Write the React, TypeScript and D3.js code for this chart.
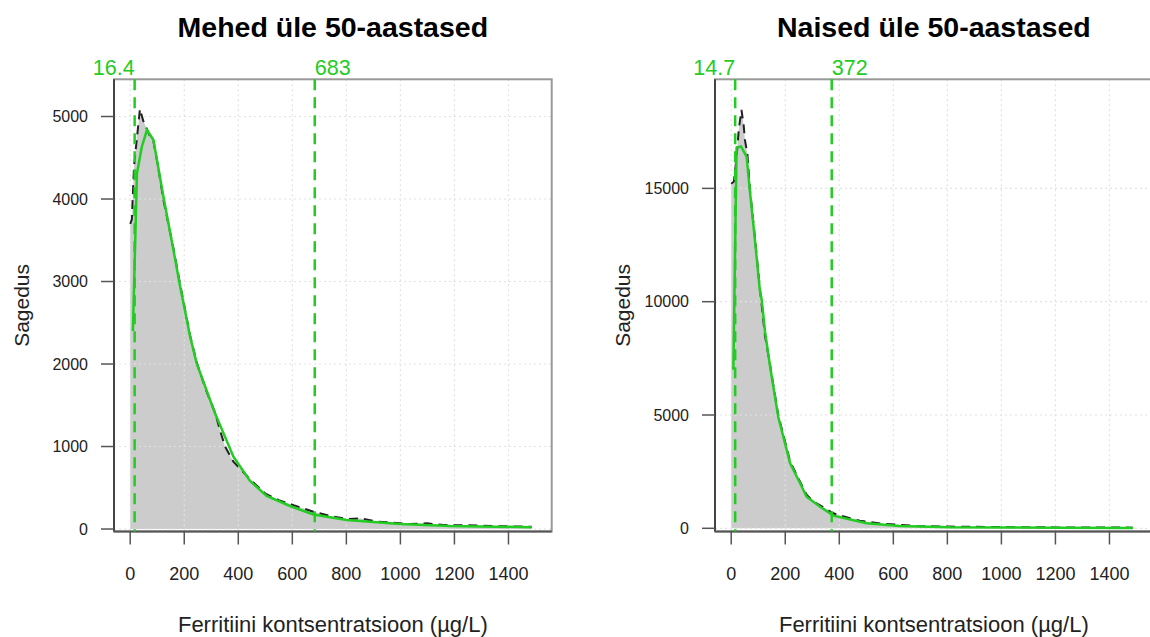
import React from "react";
import * as d3 from "d3";

// tick labels
const xTicks = [0, 200, 400, 600, 800, 1000, 1200, 1400];
const menYTicks = [0, 1000, 2000, 3000, 4000, 5000];
const womenYTicks = [0, 5000, 10000, 15000];

// men: histogram outline (dashed) and fitted curve (green)
const menHistX = [0, 6, 14, 24, 36, 48, 55, 73, 86, 100, 123, 160, 185, 222, 246, 280, 314, 332, 351, 382, 410, 444, 500, 550, 604, 678, 740, 802, 851, 913, 975, 1036, 1098, 1160, 1250, 1350, 1486];
const menHistY = [3700, 3750, 4390, 4715, 5090, 4950, 4900, 4760, 4700, 4450, 3990, 3400, 2960, 2340, 2020, 1690, 1410, 1200, 1000, 816, 720, 600, 430, 350, 290, 210, 158, 121, 130, 89, 76, 60, 69, 48, 45, 35, 28];
const menFitX = [10, 25, 43, 62, 86, 123, 160, 185, 222, 246, 314, 382, 443, 505, 598, 678, 801, 998, 1184, 1486];
const menFitY = [2400, 4312, 4634, 4836, 4715, 4028, 3382, 2937, 2330, 2008, 1402, 876, 585, 400, 270, 176, 109, 60, 36, 22];
const menLimits = [16.4, 683];

// women
const womenHistX = [0, 10, 20, 28, 38, 46, 51, 60, 69, 88, 106, 125, 144, 174, 218, 255, 279, 304, 316, 378, 440, 476, 563, 575, 686, 800, 1000, 1200, 1487];
const womenHistY = [15200, 15300, 16400, 17600, 18460, 17800, 17130, 16500, 15000, 12800, 10600, 8500, 7200, 5000, 2950, 2050, 1480, 1174, 1103, 662, 441, 335, 190, 190, 101, 75, 55, 40, 30];
const womenFitX = [8, 14, 20, 36, 57, 69, 88, 106, 113, 125, 144, 174, 218, 255, 279, 329, 378, 501, 624, 811, 995, 1200, 1487];
const womenFitY = [7000, 12000, 16800, 16850, 16400, 14900, 12700, 10500, 10075, 8700, 7131, 4925, 2868, 1986, 1395, 953, 560, 220, 101, 44, 40, 25, 15];
const womenLimits = [14.7, 372];

const titles = ["Mehed üle 50-aastased", "Naised üle 50-aastased"];
const xLabel = "Ferritiini kontsentratsioon (µg/L)";
const yLabel = "Sagedus";

const GREEN = "#22cc22";
const FONT = "'Liberation Sans', Arial, Helvetica, sans-serif";
const TOP = 79.3;
const BOTTOM = 531.5;
const BOX_W = 437.7;

type PanelProps = {
  left: number;
  title: string;
  yTicks: number[];
  yDomain: [number, number];
  histX: number[];
  histY: number[];
  fitX: number[];
  fitY: number[];
  limits: number[];
  limitLabels: string[];
};

function Panel(p: PanelProps) {
  const x = d3.scaleLinear().domain([-60, 1560]).range([p.left, p.left + BOX_W]);
  const y = d3.scaleLinear().domain(p.yDomain).range([BOTTOM, TOP]);
  const hist = p.histX.map((v, i) => [v, p.histY[i]] as [number, number]);
  const fit = p.fitX.map((v, i) => [v, p.fitY[i]] as [number, number]);

  const area = d3.area<[number, number]>()
    .x(d => x(d[0]))
    .y0(y(0))
    .y1(d => y(d[1]));
  const line = d3.line<[number, number]>()
    .x(d => x(d[0]))
    .y(d => y(d[1]));

  const right = p.left + BOX_W;
  const cx = (p.left + right) / 2;
  const cy = (TOP + BOTTOM) / 2;

  return (
    <g>
      <text x={cx} y={37} textAnchor="middle" fontSize={28.5} fontWeight="bold" fontFamily={FONT}>{p.title}</text>

      {/* histogram */}
      <path d={area(hist) || ""} fill="#cccccc" />

      {/* grid */}
      {xTicks.map(t => (
        <line key={"gx" + t} x1={x(t)} x2={x(t)} y1={TOP} y2={BOTTOM} stroke="#e2e2e2" strokeWidth={1.2} strokeDasharray="2,3" />
      ))}
      {p.yTicks.map(t => (
        <line key={"gy" + t} x1={p.left} x2={right} y1={y(t)} y2={y(t)} stroke="#e2e2e2" strokeWidth={1.2} strokeDasharray="2,3" />
      ))}

      <path d={line(hist) || ""} fill="none" stroke="#222" strokeWidth={2} strokeDasharray="9,6" />
      <path d={line(fit) || ""} fill="none" stroke={GREEN} strokeWidth={2.5} />

      {/* box and axes */}
      <rect x={p.left} y={TOP} width={BOX_W} height={BOTTOM - TOP} fill="none" stroke="#999" strokeWidth={2} />
      <line x1={p.left} x2={p.left} y1={TOP} y2={BOTTOM} stroke="#444" strokeWidth={2} />
      <line x1={p.left} x2={right} y1={BOTTOM} y2={BOTTOM} stroke="#555" strokeWidth={2} />

      {xTicks.map(t => (
        <g key={"xt" + t}>
          <line x1={x(t)} x2={x(t)} y1={BOTTOM} y2={BOTTOM + 13} stroke="#555" strokeWidth={1.5} />
          <text x={x(t)} y={580} textAnchor="middle" fontSize={18} fill="#222" fontFamily={FONT}>{t}</text>
        </g>
      ))}
      {p.yTicks.map(t => (
        <g key={"yt" + t}>
          <line x1={p.left - 13} x2={p.left} y1={y(t)} y2={y(t)} stroke="#555" strokeWidth={1.5} />
          <text x={p.left - 26} y={y(t)} dy="0.35em" textAnchor="end" fontSize={16} fill="#222" fontFamily={FONT}>{t}</text>
        </g>
      ))}

      {/* limit lines */}
      {p.limits.map((v, i) => (
        <g key={"lim" + i}>
          <line x1={x(v)} x2={x(v)} y1={TOP} y2={BOTTOM} stroke={GREEN} strokeWidth={2.5} strokeDasharray="11,7" />
          <text x={x(v)} y={75} textAnchor={i === 0 ? "end" : "start"} fontSize={21.5} fill={GREEN} fontFamily={FONT}>{p.limitLabels[i]}</text>
        </g>
      ))}

      <text x={cx} y={632} textAnchor="middle" fontSize={22} fill="#222" fontFamily={FONT}>{xLabel}</text>
      <text transform={`translate(${p.left - 85},${cy}) rotate(-90)`} textAnchor="middle" fontSize={21} fill="#222" fontFamily={FONT}>{yLabel}</text>
    </g>
  );
}

export default function App() {
  return (
    <svg width={1150} height={637} style={{ position: "absolute", left: 0, top: 0, background: "#fff" }}>
      <Panel left={114} title={titles[0]} yTicks={menYTicks} yDomain={[-30, 5451]}
        histX={menHistX} histY={menHistY} fitX={menFitX} fitY={menFitY}
        limits={menLimits} limitLabels={["16.4", "683"]} />
      <Panel left={715} title={titles[1]} yTicks={womenYTicks} yDomain={[-141, 19814]}
        histX={womenHistX} histY={womenHistY} fitX={womenFitX} fitY={womenFitY}
        limits={womenLimits} limitLabels={["14.7", "372"]} />
    </svg>
  );
}
